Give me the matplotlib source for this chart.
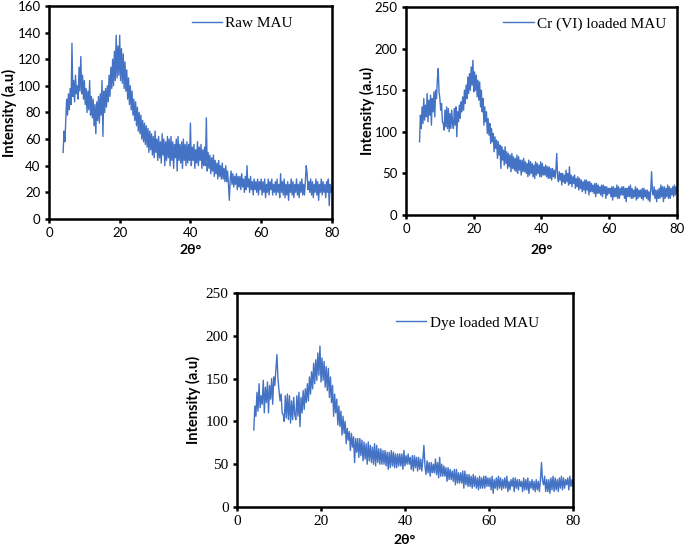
import numpy as np
import matplotlib
matplotlib.use('Agg')
import matplotlib.pyplot as plt

# 2theta grid (degrees), 4 to 80 in 0.25 steps
two_theta = np.arange(4.0, 80.01, 0.25)

# intensities (a.u), one row = 5 degrees
raw_mau = [
    50, 66, 58, 74, 90, 78, 94, 82, 98, 86, 132, 92, 104, 88, 108, 94, 100, 90, 114, 96,
    122, 94, 108, 90, 104, 86, 98, 80, 96, 82, 104, 78, 92, 76, 90, 70, 86, 64, 88, 74,
    92, 72, 94, 78, 104, 62, 96, 80, 98, 84, 100, 88, 108, 92, 114, 98, 120, 100, 126, 104,
    138, 106, 130, 108, 138, 104, 128, 102, 124, 98, 118, 96, 112, 90, 106, 86, 100, 82, 96, 78,
    90, 74, 88, 70, 84, 66, 80, 64, 78, 60, 74, 58, 72, 56, 70, 54, 68, 50, 66, 52,
    64, 48, 62, 46, 66, 50, 60, 44, 62, 46, 58, 42, 64, 48, 60, 40, 58, 44, 62, 46,
    60, 40, 62, 44, 58, 38, 56, 46, 60, 36, 62, 44, 56, 42, 58, 38, 60, 44, 56, 40,
    58, 42, 56, 44, 72, 40, 54, 44, 56, 38, 52, 42, 58, 40, 54, 44, 56, 38, 52, 40,
    54, 40, 76, 36, 50, 38, 48, 34, 46, 36, 48, 32, 44, 34, 42, 30, 44, 32, 40, 30,
    42, 30, 38, 28, 40, 28, 36, 26, 14, 30, 36, 26, 34, 24, 32, 26, 34, 22, 32, 24,
    32, 22, 34, 24, 30, 20, 32, 22, 40, 24, 30, 20, 32, 22, 28, 18, 30, 22, 28, 20,
    30, 18, 28, 22, 30, 18, 28, 20, 30, 16, 26, 20, 30, 18, 28, 22, 30, 18, 26, 20,
    28, 18, 30, 20, 26, 16, 34, 20, 28, 18, 30, 16, 26, 18, 28, 14, 26, 20, 30, 18,
    28, 16, 26, 20, 30, 18, 26, 16, 28, 20, 30, 18, 26, 18, 28, 40, 34, 22, 28, 20,
    30, 18, 28, 16, 26, 20, 30, 18, 28, 14, 26, 20, 30, 18, 28, 20, 26, 16, 28, 20,
    30, 10, 26, 20, 24,
]

cr_mau = [
    88, 120, 104, 130, 110, 140, 114, 132, 118, 146, 112, 138, 120, 144, 108, 140, 124, 148, 118, 150,
    140, 162, 176, 148, 140, 126, 134, 112, 110, 102, 126, 106, 130, 104, 128, 100, 122, 104, 126, 110,
    104, 128, 108, 130, 94, 124, 112, 132, 116, 136, 124, 142, 126, 150, 134, 156, 140, 166, 146, 170,
    150, 178, 156, 186, 148, 172, 150, 168, 142, 162, 138, 160, 130, 150, 124, 140, 108, 130, 112, 124,
    98, 116, 96, 110, 86, 104, 88, 98, 76, 94, 80, 90, 68, 88, 72, 84, 56, 82, 66, 78,
    60, 82, 62, 76, 56, 74, 58, 72, 52, 74, 56, 70, 54, 68, 52, 72, 50, 70, 54, 66,
    48, 66, 52, 68, 52, 64, 50, 62, 46, 66, 48, 64, 50, 62, 46, 60, 44, 64, 48, 62,
    50, 60, 46, 64, 46, 62, 48, 58, 48, 60, 46, 58, 44, 58, 44, 56, 42, 56, 46, 54,
    44, 54, 74, 46, 40, 52, 42, 50, 36, 50, 40, 48, 38, 54, 40, 50, 36, 58, 38, 48,
    34, 46, 38, 48, 32, 44, 34, 46, 30, 44, 32, 42, 28, 40, 30, 42, 26, 42, 30, 40,
    24, 40, 28, 38, 28, 36, 26, 38, 22, 38, 26, 36, 26, 34, 24, 36, 22, 36, 26, 34,
    20, 34, 24, 32, 26, 32, 22, 34, 18, 34, 22, 32, 22, 36, 20, 34, 20, 32, 24, 34,
    24, 34, 20, 32, 16, 32, 22, 34, 22, 36, 20, 32, 20, 30, 22, 34, 18, 32, 20, 30,
    22, 30, 20, 32, 18, 32, 22, 30, 20, 30, 18, 28, 16, 30, 52, 28, 24, 34, 20, 30,
    16, 30, 20, 32, 20, 36, 22, 34, 16, 34, 20, 32, 22, 36, 20, 34, 20, 32, 24, 34,
    22, 36, 24, 34, 26,
]

dye_mau = [
    90, 118, 106, 134, 112, 144, 116, 130, 120, 148, 110, 140, 122, 146, 110, 142, 126, 150, 120, 152,
    142, 160, 178, 150, 136, 124, 132, 110, 108, 100, 130, 104, 132, 102, 130, 98, 124, 102, 128, 108,
    102, 130, 106, 134, 94, 128, 110, 136, 114, 138, 122, 144, 124, 152, 132, 158, 138, 168, 144, 172,
    148, 180, 154, 188, 146, 174, 148, 170, 140, 164, 136, 162, 128, 152, 122, 142, 106, 132, 110, 126,
    96, 118, 94, 112, 84, 106, 86, 100, 74, 92, 78, 88, 66, 86, 70, 82, 52, 80, 64, 80,
    58, 80, 60, 78, 54, 76, 56, 74, 50, 76, 54, 72, 52, 70, 50, 74, 48, 72, 52, 68,
    50, 68, 50, 66, 50, 66, 48, 64, 44, 64, 46, 66, 48, 64, 46, 62, 46, 62, 48, 62,
    48, 62, 44, 66, 48, 60, 50, 62, 50, 58, 44, 60, 42, 60, 46, 58, 42, 58, 44, 56,
    42, 56, 72, 48, 38, 54, 40, 52, 36, 52, 40, 50, 40, 56, 38, 52, 34, 58, 36, 50,
    36, 48, 36, 46, 30, 46, 32, 44, 32, 42, 30, 44, 26, 44, 28, 40, 28, 40, 28, 42,
    22, 42, 26, 38, 24, 38, 24, 36, 22, 38, 24, 36, 22, 34, 20, 36, 22, 34, 22, 36,
    22, 36, 24, 34, 24, 34, 20, 36, 16, 32, 22, 34, 20, 36, 22, 34, 20, 32, 22, 34,
    22, 36, 18, 30, 20, 32, 24, 34, 18, 34, 22, 32, 20, 32, 24, 30, 18, 34, 20, 32,
    20, 34, 16, 30, 22, 32, 20, 30, 18, 32, 20, 30, 18, 32, 52, 30, 26, 36, 18, 32,
    18, 32, 16, 34, 20, 36, 18, 34, 20, 32, 18, 34, 22, 36, 20, 34, 22, 32, 26, 34,
    20, 36, 24, 32, 24,
]

panels = [
    # data, legend, ymax, axes rect, tick font, legend anchor, label coords
    (raw_mau, 'Raw MAU', 160, [0.0715, 0.599, 0.413, 0.390], 'sans',
     (0.505, 0.92), (-0.138, 0.5), (0.5, -0.146)),
    (cr_mau, 'Cr (VI) loaded MAU', 250, [0.5927, 0.6062, 0.3956, 0.381], 'sans',
     (0.358, 0.918), (-0.144, 0.5), (0.5, -0.168)),
    (dye_mau, 'Dye loaded MAU', 250, [0.346, 0.0714, 0.4905, 0.392], 'serif',
     (0.473, 0.86), (-0.131, 0.5), (0.5, -0.154)),
]

blue = '#4472C4'
fig = plt.figure(figsize=(6.85, 5.46), dpi=100)

for data, name, ymax, rect, tfont, leg_xy, ylab_xy, xlab_xy in panels:
    ax = fig.add_axes(rect)
    ax.plot(two_theta, data, color=blue, lw=1.0, label=name)
    ax.set_xlim(0, 80)
    ax.set_ylim(0, ymax)
    ax.set_xticks(np.arange(0, 81, 20))
    ax.set_yticks(np.arange(0, ymax + 1, 20 if ymax == 160 else 50))
    for s in ax.spines.values():
        s.set_linewidth(1.8)
    ax.tick_params(direction='out', length=3, width=1.8, pad=3)
    if tfont == 'serif':
        fam, fs = 'Liberation Serif', 11
    else:
        fam, fs = 'Lato', 9.5
    for lab in ax.get_xticklabels() + ax.get_yticklabels():
        lab.set_fontfamily(fam)
        lab.set_fontsize(fs)
    ax.set_xlabel('2θ°', fontfamily='Lato', fontweight='bold', fontsize=10)
    ax.set_ylabel('Intensity (a.u)', fontfamily='Lato', fontweight='bold', fontsize=10.5)
    ax.xaxis.set_label_coords(*xlab_xy)
    ax.yaxis.set_label_coords(*ylab_xy)
    ax.xaxis.label.set_va('center')
    ax.yaxis.label.set_va('center')
    ax.legend(loc='center left', bbox_to_anchor=leg_xy, frameon=False,
              borderpad=0, borderaxespad=0, handlelength=2.0, handletextpad=0.2,
              prop={'family': 'Liberation Serif', 'size': 11})

fig.savefig('out.png', dpi=100)
